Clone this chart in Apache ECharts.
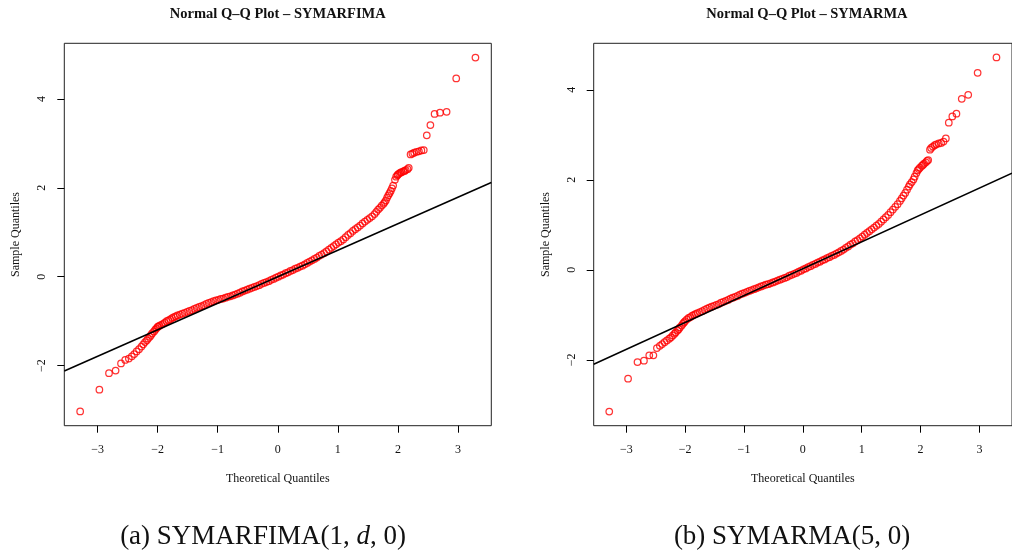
<!DOCTYPE html>
<html><head><meta charset="utf-8">
<script src="https://cdn.jsdelivr.net/npm/echarts@6/dist/echarts.min.js"></script>
<style>html,body{margin:0;padding:0;background:#fff}#c{width:1012px;height:556px}</style>
</head><body><div id="c"></div>
<script>
// ---------- data ----------
const panelTitles = ['Normal Q\u2013Q Plot \u2013 SYMARFIMA', 'Normal Q\u2013Q Plot \u2013 SYMARMA'];
const xAxisTitle = 'Theoretical Quantiles';
const yAxisTitle = 'Sample Quantiles';
const xTicks = [-3, -2, -1, 0, 1, 2, 3];
const yTicks = [-2, 0, 2, 4];

// Panel (a) SYMARFIMA(1,d,0)
const theoA = [-3.29,-2.97,-2.81,-2.70,-2.61,-2.54,-2.48,-2.43,-2.39,-2.35,-2.31,-2.27,-2.24,-2.21,-2.18,-2.16,-2.13,-2.11,-2.09,-2.06,-2.04,-2.02,-2.00,-1.99,-1.97,
-1.94,-1.91,-1.88,-1.85,-1.82,-1.79,-1.76,-1.73,-1.70,-1.67,-1.63,-1.59,-1.55,-1.51,-1.47,-1.43,-1.39,-1.35,-1.31,-1.27,-1.23,-1.19,-1.15,-1.11,-1.07,-1.03,
-0.99,-0.95,-0.91,-0.87,-0.83,-0.79,-0.75,-0.71,-0.67,-0.63,-0.59,-0.55,-0.51,-0.47,-0.43,-0.39,-0.35,-0.31,-0.27,-0.23,-0.19,-0.15,-0.11,-0.07,-0.03,
0.01,0.05,0.09,0.13,0.17,0.21,0.25,0.29,0.33,0.37,0.41,0.45,0.49,0.53,0.57,0.61,0.65,0.69,0.73,0.77,0.81,0.85,0.89,0.93,0.97,
1.01,1.05,1.09,1.13,1.17,1.21,1.25,1.29,1.33,1.37,1.41,1.45,1.49,1.53,1.57,1.61,1.64,1.67,1.70,1.73,1.76,1.78,1.80,1.82,1.84,1.86,1.88,1.90,1.92,
1.95,1.97,1.99,2.00,2.02,2.04,2.06,2.09,2.11,2.13,2.16,2.18,2.21,2.24,2.27,2.31,2.35,2.39,2.43,2.48,2.54,2.61,2.70,2.81,2.97,3.29];
const sampleA = [-3.03,-2.54,-2.17,-2.11,-1.95,-1.87,-1.84,-1.79,-1.74,-1.68,-1.63,-1.57,-1.52,-1.47,-1.43,-1.39,-1.35,-1.31,-1.27,-1.23,-1.19,-1.16,-1.13,-1.12,-1.10,
-1.08,-1.06,-1.03,-1.00,-0.98,-0.96,-0.93,-0.91,-0.89,-0.87,-0.85,-0.83,-0.81,-0.79,-0.77,-0.75,-0.72,-0.70,-0.68,-0.66,-0.64,-0.61,-0.59,-0.57,-0.55,-0.53,
-0.52,-0.50,-0.49,-0.47,-0.45,-0.44,-0.42,-0.40,-0.38,-0.36,-0.33,-0.31,-0.29,-0.27,-0.25,-0.23,-0.21,-0.19,-0.16,-0.14,-0.12,-0.10,-0.07,-0.05,-0.02,
0.00,0.03,0.05,0.08,0.10,0.13,0.15,0.18,0.20,0.23,0.25,0.28,0.31,0.34,0.37,0.40,0.43,0.47,0.50,0.53,0.57,0.61,0.65,0.69,0.73,
0.77,0.80,0.84,0.89,0.94,0.98,1.03,1.07,1.11,1.15,1.20,1.24,1.28,1.32,1.36,1.41,1.46,1.51,1.55,1.60,1.64,1.68,1.72,1.78,1.83,1.88,1.93,1.99,2.05,
2.18,2.25,2.28,2.30,2.32,2.34,2.35,2.37,2.38,2.40,2.42,2.45,2.75,2.77,2.79,2.81,2.82,2.84,2.85,3.18,3.41,3.66,3.69,3.71,4.46,4.93];
const lineA = [[-3.554, -2.12], [3.554, 2.12]];

// Panel (b) SYMARMA(5,0)
const theoB = [-3.29,-2.97,-2.81,-2.70,-2.61,-2.54,-2.48,-2.43,-2.39,-2.35,-2.31,-2.27,-2.24,-2.21,-2.18,-2.16,-2.13,-2.11,-2.09,-2.06,-2.04,-2.02,-2.00,-1.97,
-1.94,-1.91,-1.88,-1.85,-1.82,-1.79,-1.75,-1.71,-1.67,-1.63,-1.59,-1.55,-1.51,-1.47,-1.43,-1.39,-1.35,-1.31,-1.27,-1.23,-1.19,-1.15,-1.11,-1.07,-1.03,
-0.99,-0.95,-0.91,-0.87,-0.83,-0.79,-0.75,-0.71,-0.67,-0.63,-0.59,-0.55,-0.51,-0.47,-0.43,-0.39,-0.35,-0.31,-0.27,-0.23,-0.19,-0.15,-0.11,-0.07,-0.03,
0.01,0.05,0.09,0.13,0.17,0.21,0.25,0.29,0.33,0.37,0.41,0.45,0.49,0.53,0.57,0.61,0.65,0.69,0.73,0.77,0.81,0.85,0.89,0.93,0.97,
1.01,1.05,1.09,1.13,1.17,1.21,1.25,1.29,1.33,1.37,1.41,1.45,1.49,1.53,1.57,1.61,1.65,1.68,1.71,1.74,1.77,1.80,1.82,1.85,1.88,1.90,1.93,
1.95,1.97,1.99,2.02,2.04,2.06,2.09,2.11,2.13,2.16,2.18,2.21,2.24,2.27,2.31,2.35,2.39,2.43,2.48,2.54,2.61,2.70,2.81,2.97,3.29];
const sampleB = [-3.15,-2.42,-2.05,-2.02,-1.90,-1.90,-1.74,-1.69,-1.65,-1.61,-1.57,-1.53,-1.50,-1.46,-1.42,-1.39,-1.35,-1.32,-1.28,-1.24,-1.20,-1.17,-1.14,-1.10,
-1.07,-1.05,-1.02,-1.00,-0.98,-0.96,-0.94,-0.92,-0.89,-0.86,-0.84,-0.82,-0.80,-0.78,-0.76,-0.73,-0.71,-0.69,-0.67,-0.64,-0.62,-0.60,-0.58,-0.55,-0.53,
-0.51,-0.49,-0.47,-0.45,-0.43,-0.41,-0.39,-0.37,-0.35,-0.33,-0.32,-0.30,-0.28,-0.26,-0.24,-0.22,-0.20,-0.18,-0.16,-0.13,-0.11,-0.09,-0.07,-0.04,-0.02,
0.01,0.03,0.06,0.08,0.11,0.13,0.16,0.18,0.21,0.23,0.26,0.28,0.31,0.33,0.36,0.39,0.42,0.45,0.49,0.52,0.56,0.59,0.63,0.66,0.70,
0.74,0.78,0.82,0.86,0.90,0.94,0.98,1.02,1.07,1.12,1.17,1.22,1.28,1.34,1.40,1.46,1.53,1.59,1.65,1.71,1.78,1.85,1.90,1.95,2.01,2.07,2.15,
2.21,2.24,2.27,2.31,2.33,2.36,2.39,2.42,2.44,2.67,2.71,2.74,2.77,2.79,2.81,2.82,2.85,2.92,3.27,3.41,3.47,3.80,3.89,4.38,4.72];
const lineB = [[-3.554, -2.10], [3.554, 2.15]];

const captionA = ['(a) SYMARFIMA(1, ', 'd', ', 0)'];
const captionB = '(b) SYMARMA(5, 0)';

// ---------- chart ----------
const SERIF = '"Liberation Serif", "Times New Roman", serif';
const minusFmt = v => (v < 0 ? '\u2212' + Math.abs(v) : String(v));
const zip = (a, b) => a.map((x, i) => [x, b[i]]);

function xAxisCfg(gi) {
  return {
    gridIndex: gi, type: 'value', position: 'bottom', min: -3.554, max: 3.554,
    splitLine: { show: false },
    axisLine: { show: false, onZero: false },
    axisTick: { show: true, length: 7, customValues: xTicks, lineStyle: { color: '#000', width: 1 } },
    axisLabel: { customValues: xTicks, margin: 18, fontFamily: SERIF, fontSize: 12, color: '#111', formatter: minusFmt },
    name: xAxisTitle, nameLocation: 'middle', nameGap: 47,
    nameTextStyle: { fontFamily: SERIF, fontSize: 12, color: '#111' }
  };
}
function yAxisCfg(gi, mn, mx) {
  return {
    gridIndex: gi, type: 'value', position: 'left', min: mn, max: mx,
    splitLine: { show: false },
    axisLine: { show: false, onZero: false },
    axisTick: { show: true, length: 7, customValues: yTicks, lineStyle: { color: '#000', width: 1 } },
    axisLabel: { customValues: yTicks, margin: 16, rotate: 90, fontFamily: SERIF, fontSize: 12, color: '#111', formatter: minusFmt },
    name: yAxisTitle, nameLocation: 'middle', nameGap: 42, nameRotate: 90,
    nameTextStyle: { fontFamily: SERIF, fontSize: 12, color: '#111' }
  };
}
const pointStyle = { color: 'rgba(0,0,0,0)', borderColor: '#ff0000', borderWidth: 1.25 };

const chart = echarts.init(document.getElementById('c'), null, { renderer: 'canvas' });
chart.setOption({
  animation: false,
  backgroundColor: '#fff',
  grid: [
    { left: 64.3, top: 43.3, width: 427, height: 382.4, show: true, borderColor: '#222', borderWidth: 1, backgroundColor: 'transparent' },
    { left: 593.7, top: 43.3, width: 427, height: 382.4, show: true, borderColor: '#222', borderWidth: 1, backgroundColor: 'transparent' }
  ],
  xAxis: [xAxisCfg(0), xAxisCfg(1)],
  yAxis: [yAxisCfg(0, -3.35, 5.25), yAxisCfg(1, -3.465, 5.035)],
  series: [
    { type: 'scatter', xAxisIndex: 0, yAxisIndex: 0, data: zip(theoA, sampleA), symbol: 'circle', symbolSize: 6.5, itemStyle: pointStyle, silent: true },
    { type: 'line', xAxisIndex: 0, yAxisIndex: 0, data: lineA, symbol: 'none', lineStyle: { color: '#000', width: 1.5 }, silent: true, clip: true },
    { type: 'scatter', xAxisIndex: 1, yAxisIndex: 1, data: zip(theoB, sampleB), symbol: 'circle', symbolSize: 6.5, itemStyle: pointStyle, silent: true },
    { type: 'line', xAxisIndex: 1, yAxisIndex: 1, data: lineB, symbol: 'none', lineStyle: { color: '#000', width: 1.5 }, silent: true, clip: true }
  ],
  graphic: [
    { type: 'text', x: 277.8, y: 14, style: { text: panelTitles[0], fontFamily: SERIF, fontWeight: 'bold', fontSize: 14.5, fill: '#111', align: 'center', verticalAlign: 'middle' } },
    { type: 'text', x: 806.9, y: 14, style: { text: panelTitles[1], fontFamily: SERIF, fontWeight: 'bold', fontSize: 14.5, fill: '#111', align: 'center', verticalAlign: 'middle' } },
    { type: 'text', x: 263, y: 537, style: {
        text: '{n|' + captionA[0] + '}{i|' + captionA[1] + '}{n|' + captionA[2] + '}',
        align: 'center', verticalAlign: 'middle',
        rich: { n: { fontFamily: SERIF, fontSize: 27, fill: '#111' }, i: { fontFamily: SERIF, fontSize: 27, fontStyle: 'italic', fill: '#111' } }
      } },
    { type: 'text', x: 792, y: 537, style: { text: captionB, fontFamily: SERIF, fontSize: 27, fill: '#111', align: 'center', verticalAlign: 'middle' } }
  ]
});
</script>
</body></html>
